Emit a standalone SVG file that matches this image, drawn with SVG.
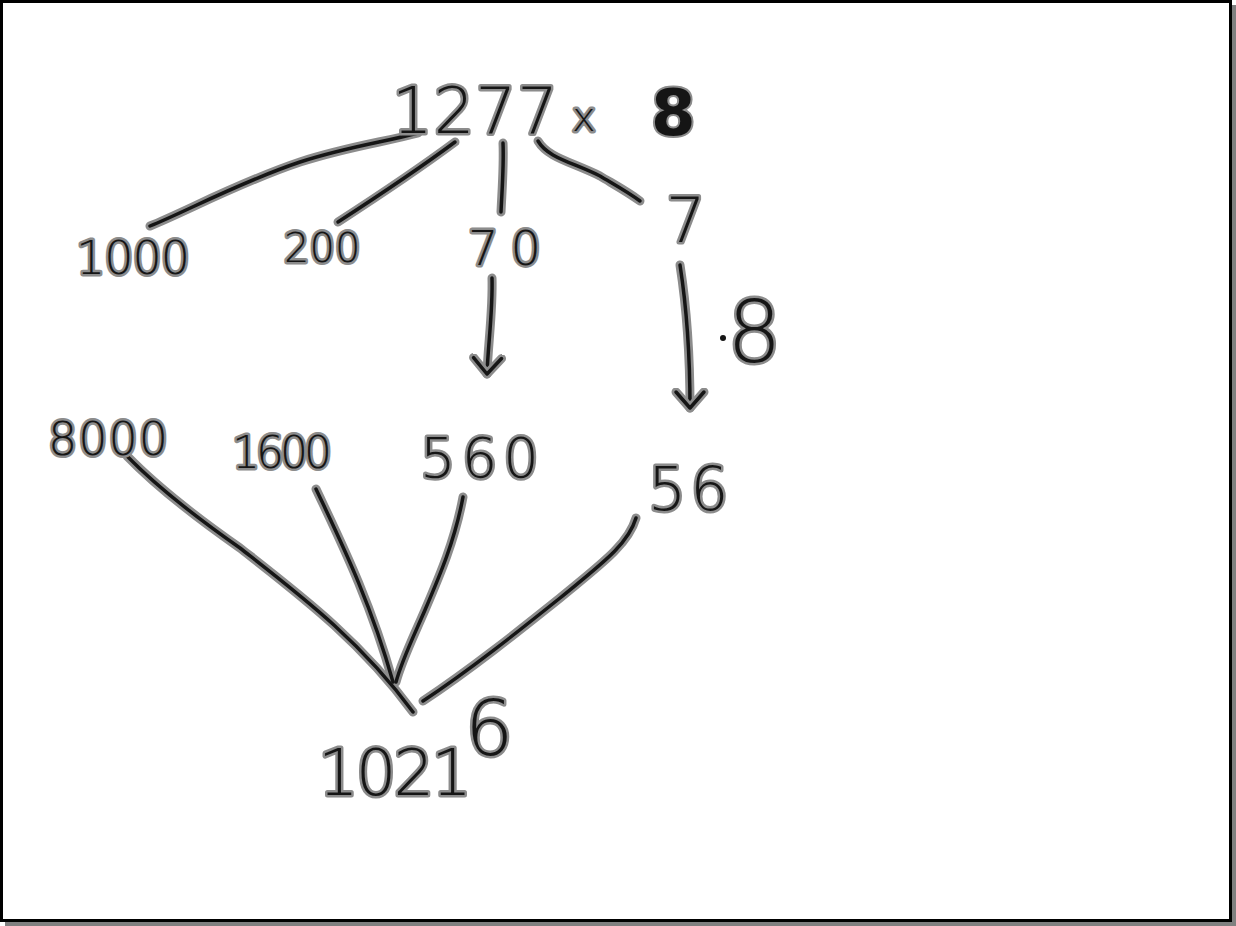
<svg xmlns="http://www.w3.org/2000/svg" width="1236" height="926" viewBox="0 0 1236 926">
<style>
.halo{fill:none;stroke:#8c8c8c;stroke-width:9;stroke-linecap:round;stroke-linejoin:round}
.ink{fill:none;stroke:#151515;stroke-width:3.5;stroke-linecap:round;stroke-linejoin:round}
.t{font-family:"DejaVu Sans","Liberation Sans",sans-serif;font-weight:200;fill:#151515;stroke:#8c8c8c;stroke-width:5;paint-order:stroke;stroke-linejoin:round}
.b{font-weight:bold;stroke-width:4}
</style>
<defs>
<marker id="ah" markerUnits="userSpaceOnUse" markerWidth="40" markerHeight="40" refX="20" refY="20" orient="auto" viewBox="0 0 40 40">
<path d="M4 6 L20 20 L4 34" fill="none" stroke="#8c8c8c" stroke-width="9" stroke-linecap="round" stroke-linejoin="round"/>
<path d="M4 6 L20 20 L4 34" fill="none" stroke="#151515" stroke-width="3.5" stroke-linecap="round" stroke-linejoin="round"/>
</marker>
</defs>
<rect x="0" y="0" width="1236" height="926" fill="#ffffff"/>
<rect x="5" y="5" width="1231" height="921" fill="#808080"/>
<rect x="1.5" y="1.5" width="1229" height="919" fill="#ffffff" stroke="#000" stroke-width="3"/>

<g id="connectors">
<g class="halo">
<path d="M150 226 C185 212 240 182 300 162 C350 146 385 142 418 133"/>
<path d="M338 222 C375 198 420 168 455 142"/>
<path d="M503 143 C504 165 502 190 501 212"/>
<path d="M538 141 C548 158 572 162 600 176 C615 185 628 192 640 201"/>
<path d="M492 278 C493 310 488 345 487 374"/>
<path d="M680 265 C687 310 690 360 690 408"/>
<path d="M127 456 C160 490 200 520 240 548 C300 595 360 640 413 712"/>
<path d="M316 489 C340 540 370 600 393 682"/>
<path d="M463 497 C455 540 440 575 425 610 C412 640 402 660 396 682"/>
<path d="M636 518 C628 545 600 565 560 598 C520 630 470 670 423 701"/>
</g>
<g class="ink">
<path d="M150 226 C185 212 240 182 300 162 C350 146 385 142 418 133"/>
<path d="M338 222 C375 198 420 168 455 142"/>
<path d="M503 143 C504 165 502 190 501 212"/>
<path d="M538 141 C548 158 572 162 600 176 C615 185 628 192 640 201"/>
<path d="M492 278 C493 310 488 345 487 374" marker-end="url(#ah)"/>
<path d="M680 265 C687 310 690 360 690 408" marker-end="url(#ah)"/>
<path d="M127 456 C160 490 200 520 240 548 C300 595 360 640 413 712"/>
<path d="M316 489 C340 540 370 600 393 682"/>
<path d="M463 497 C455 540 440 575 425 610 C412 640 402 660 396 682"/>
<path d="M636 518 C628 545 600 565 560 598 C520 630 470 670 423 701"/>
</g>
</g>

<g id="n-product">
<text class="t" x="392" y="133" font-size="64" letter-spacing="1">1277</text>
<text class="t" x="572" y="131" font-size="40">x</text>
<text class="t b" x="651" y="135" font-size="64">8</text>
</g>
<g id="n-1000"><text class="t" x="76" y="274" font-size="46" letter-spacing="-1">1000</text></g>
<g id="n-200"><text class="t" x="284" y="262" font-size="40">200</text></g>
<g id="n-70"><text class="t" x="468" y="265" font-size="48" letter-spacing="12">70</text></g>
<g id="n-7"><text class="t" x="666" y="242" font-size="62">7</text></g>
<g id="n-times8">
<circle cx="723" cy="338" r="3" fill="#151515"/>
<text class="t" x="727" y="362" font-size="86">8</text>
</g>
<g id="n-8000"><text class="t" x="48" y="455" font-size="46" letter-spacing="1">8000</text></g>
<g id="n-1600"><text class="t" x="232" y="468" font-size="44" letter-spacing="-4">1600</text></g>
<g id="n-560"><text class="t" x="420" y="477" font-size="56" letter-spacing="6">560</text></g>
<g id="n-56"><text class="t" x="648" y="510" font-size="60" letter-spacing="4">56</text></g>
<g id="n-10216"><text class="t" x="318" y="795" font-size="64" letter-spacing="-3">1021<tspan dx="-4" dy="-40" font-size="76">6</tspan></text></g>
</svg>
